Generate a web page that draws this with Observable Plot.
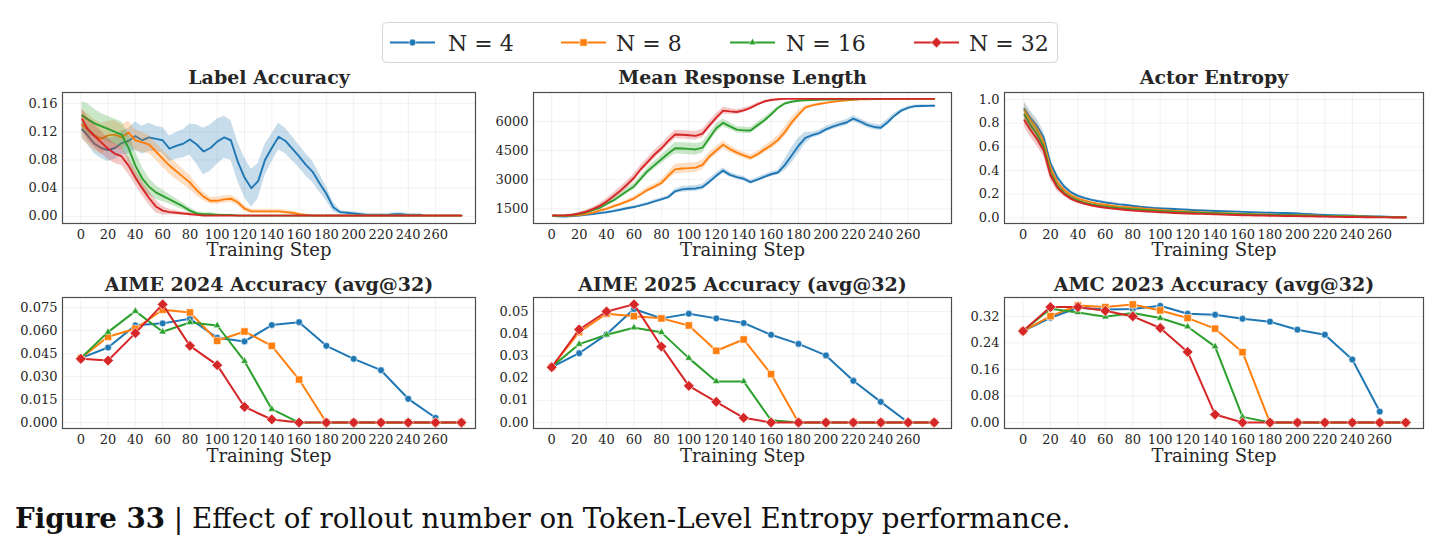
<!DOCTYPE html>
<html>
<head>
<meta charset="utf-8">
<script src="https://cdn.jsdelivr.net/npm/d3@7"></script>
<script src="https://cdn.jsdelivr.net/npm/@observablehq/plot@0.6"></script>
<style>
  html, body { margin: 0; padding: 0; background: #fff; }
  #root { position: relative; width: 1443px; height: 551px; overflow: hidden; background: #fff; }
  #root svg { position: absolute; }
</style>
</head>
<body>
<div id="root"></div>
<script>
// ---------------- DATA ----------------
const seriesNames = ["N = 4", "N = 8", "N = 16", "N = 32"];
const colors = ["#1f77b4", "#ff7f0e", "#2ca02c", "#d62728"];
const xTicks = [0, 20, 40, 60, 80, 100, 120, 140, 160, 180, 200, 220, 240, 260];

const trainSteps = [1, 5, 10, 15, 20, 25, 30, 35, 40, 45, 50, 55, 60, 65, 70, 75, 80, 85, 90, 95,
  100, 105, 110, 115, 120, 125, 130, 135, 140, 145, 150, 155, 160, 165, 170, 175, 180, 185, 190, 195,
  200, 205, 210, 215, 220, 225, 230, 235, 240, 245, 250, 255, 260, 265, 270, 275, 279];
const evalSteps = [0, 20, 40, 60, 80, 100, 120, 140, 160, 180, 200, 220, 240, 260, 279];

// Label Accuracy (mean and band half-width)
const labelAccN4 = [
  0.123,0.115,0.103,0.097,0.094,0.097,0.104,0.107,0.114,0.108,
  0.112,0.110,0.108,0.096,0.100,0.103,0.109,0.102,0.092,0.097,
  0.106,0.112,0.108,0.078,0.055,0.040,0.050,0.080,0.097,0.113,
  0.107,0.096,0.085,0.073,0.063,0.047,0.032,0.013,0.006,0.005,
  0.004,0.003,0.002,0.002,0.002,0.002,0.003,0.003,0.002,0.002,
  0.002,null,null,null,null,null,null];
const labelAccN4Band = [
  0.012,0.013,0.014,0.015,0.016,0.016,0.017,0.018,0.020,0.020,
  0.020,0.018,0.018,0.018,0.019,0.020,0.022,0.028,0.033,0.033,
  0.032,0.030,0.028,0.028,0.028,0.027,0.025,0.022,0.020,0.019,
  0.018,0.017,0.016,0.016,0.015,0.013,0.010,0.007,0.003,0.002,
  0.002,0.002,0.002,0.002,0.002,0.002,0.002,0.002,0.002,0.002,
  0.002,null,null,null,null,null,null];
const labelAccN8 = [
  0.130,0.124,0.115,0.110,0.115,0.116,0.112,0.119,0.108,0.105,
  0.102,0.092,0.082,0.072,0.064,0.056,0.048,0.037,0.028,0.022,
  0.022,0.024,0.025,0.020,0.011,0.007,0.007,0.007,0.007,0.007,
  0.006,0.005,0.003,0.002,0.001,0.001,0.001,0.001,0.001,0.001,
  0.001,0.001,0.001,0.001,0.001,0.001,0.001,0.001,0.001,0.001,
  0.001,0.001,0.001,0.001,0.001,0.001,0.001];
const labelAccN8Band = [
  0.020,0.022,0.022,0.022,0.020,0.020,0.018,0.016,0.015,0.014,
  0.013,0.012,0.012,0.012,0.012,0.011,0.010,0.008,0.006,0.005,
  0.005,0.005,0.005,0.005,0.004,0.003,0.003,0.003,0.003,0.003,
  0.003,0.002,0.002,0.001,0.001,0.001,0.001,0.001,0.001,0.001,
  0.001,0.001,0.001,0.001,0.001,0.001,0.001,0.001,0.001,0.001,
  0.001,0.001,0.001,0.001,0.001,0.001,0.001];
const labelAccN16 = [
  0.143,0.138,0.132,0.128,0.124,0.120,0.116,0.097,0.072,0.054,
  0.042,0.034,0.029,0.024,0.019,0.014,0.008,0.004,0.003,0.003,
  0.002,0.002,0.002,0.001,0.001,0.001,0.001,0.001,0.001,0.001,
  0.001,0.001,0.001,0.001,0.001,0.001,0.001,0.001,0.001,0.001,
  0.001,0.001,0.001,0.001,0.001,0.001,0.001,0.001,0.001,0.001,
  0.001,0.001,0.001,0.001,0.001,0.001,0.001];
const labelAccN16Band = [
  0.020,0.022,0.020,0.018,0.018,0.018,0.018,0.020,0.020,0.016,
  0.012,0.010,0.008,0.007,0.006,0.005,0.004,0.003,0.002,0.002,
  0.002,0.001,0.001,0.001,0.001,0.001,0.001,0.001,0.001,0.001,
  0.001,0.001,0.001,0.001,0.001,0.001,0.001,0.001,0.001,0.001,
  0.001,0.001,0.001,0.001,0.001,0.001,0.001,0.001,0.001,0.001,
  0.001,0.001,0.001,0.001,0.001,0.001,0.001];
const labelAccN32 = [
  0.138,0.124,0.114,0.105,0.096,0.089,0.085,0.072,0.055,0.040,
  0.026,0.014,0.008,0.006,0.005,0.004,0.003,0.002,0.001,0.001,
  0.001,0.001,0.001,0.001,0.001,0.001,0.001,0.001,0.001,0.001,
  0.001,0.001,0.001,0.001,0.001,0.001,0.001,0.001,0.001,0.001,
  0.001,0.001,0.001,0.001,0.001,0.001,0.001,0.001,0.001,0.001,
  0.001,0.001,0.001,0.001,0.001,0.001,0.001];
const labelAccN32Band = [
  0.015,0.016,0.016,0.016,0.015,0.014,0.013,0.012,0.011,0.010,
  0.010,0.009,0.006,0.004,0.003,0.002,0.002,0.001,0.001,0.001,
  0.001,0.001,0.001,0.001,0.001,0.001,0.001,0.001,0.001,0.001,
  0.001,0.001,0.001,0.001,0.001,0.001,0.001,0.001,0.001,0.001,
  0.001,0.001,0.001,0.001,0.001,0.001,0.001,0.001,0.001,0.001,
  0.001,0.001,0.001,0.001,0.001,0.001,0.001];

// Mean Response Length
const respLenN4 = [
  1120,1110,1105,1120,1150,1190,1225,1275,1320,1380,
  1450,1530,1590,1680,1770,1880,1990,2100,2400,2500,
  2530,2550,2620,2900,3200,3470,3250,3130,3050,2870,
  3000,3150,3280,3370,3750,4250,4750,5150,5300,5400,
  5590,5740,5850,5950,6150,6000,5830,5720,5680,5960,
  6300,6560,6700,6790,6800,6805,6810];
const respLenN4Band = [
  40,40,40,40,40,40,40,50,50,60,
  60,60,60,70,70,80,80,90,120,150,
  150,150,150,150,150,150,130,120,120,110,
  110,120,120,120,300,400,400,300,150,150,
  150,150,150,150,150,150,150,150,150,150,
  120,100,80,60,60,60,60];
const respLenN8 = [
  1150,1140,1140,1150,1180,1230,1300,1410,1500,1630,
  1740,1880,2030,2250,2480,2640,2830,3200,3530,3580,
  3595,3620,3760,4200,4500,4800,4580,4400,4250,4130,
  4300,4550,4770,5050,5450,5950,6350,6720,6830,6900,
  6960,7010,7050,7090,7120,7140,7150,7155,7160,7163,
  7165,7166,7167,7168,7168,7168,7168];
const respLenN8Band = [
  40,40,40,40,40,50,50,60,70,80,
  90,100,110,120,130,140,150,200,250,250,
  250,250,250,220,200,200,180,160,150,150,
  160,180,200,220,250,250,200,100,60,50,
  40,40,30,30,30,20,20,20,20,20,
  20,20,20,20,20,20,20];
const respLenN16 = [
  1150,1140,1150,1180,1230,1320,1430,1550,1750,1930,
  2170,2420,2650,3050,3450,3750,4050,4350,4620,4610,
  4590,4560,4650,5150,5650,5930,5750,5580,5540,5536,
  5800,6050,6360,6700,6930,7020,7070,7095,7110,7120,
  7130,7135,7140,7145,7150,7155,7160,7163,7165,7166,
  7167,7168,7168,7168,7168,7168,7168];
const respLenN16Band = [
  40,40,40,40,50,60,70,90,100,120,
  130,150,160,170,180,200,220,250,300,300,
  300,300,280,250,220,200,180,160,160,160,
  160,150,120,80,50,40,30,30,20,20,
  20,20,20,20,20,20,20,20,20,20,
  20,20,20,20,20,20,20];
const respLenN32 = [
  1160,1150,1160,1190,1260,1350,1480,1650,1880,2150,
  2430,2750,3100,3550,3920,4300,4620,5000,5330,5320,
  5290,5260,5380,5800,6200,6560,6520,6490,6570,6700,
  6880,7030,7110,7150,7165,7168,7168,7168,7168,7168,
  7168,7168,7168,7168,7168,7168,7168,7168,7168,7168,
  7168,7168,7168,7168,7168,7168,7168];
const respLenN32Band = [
  40,40,40,50,60,80,100,120,150,170,
  190,200,200,200,210,210,210,220,220,220,
  220,220,220,200,200,180,150,130,120,100,
  80,60,40,30,20,20,20,20,20,20,
  20,20,20,20,20,20,20,20,20,20,
  20,20,20,20,20,20,20];

// Actor Entropy
const entropyN4 = [
  0.920,0.850,0.780,0.680,0.460,0.340,0.265,0.215,0.185,0.167,
  0.152,0.140,0.130,0.122,0.114,0.108,0.100,0.093,0.088,0.083,
  0.080,0.077,0.074,0.071,0.068,0.065,0.062,0.060,0.058,0.056,
  0.054,0.052,0.050,0.048,0.046,0.044,0.043,0.042,0.041,0.039,
  0.036,0.033,0.030,0.027,0.025,0.023,0.021,0.019,0.017,0.015,
  0.014,0.012,0.011,0.009,0.008,0.007,0.006];
const entropyN8 = [
  0.905,0.830,0.750,0.640,0.420,0.300,0.235,0.190,0.163,0.145,
  0.130,0.118,0.110,0.102,0.095,0.090,0.086,0.081,0.076,0.071,
  0.066,0.062,0.058,0.055,0.052,0.049,0.046,0.044,0.042,0.039,
  0.037,0.035,0.033,0.031,0.029,0.027,0.026,0.025,0.024,0.023,
  0.022,0.020,0.019,0.017,0.016,0.015,0.014,0.013,0.012,0.011,
  0.010,0.009,0.008,0.007,0.006,0.005,0.005];
const entropyN16 = [
  0.870,0.790,0.710,0.600,0.380,0.270,0.210,0.170,0.145,0.126,
  0.113,0.103,0.095,0.088,0.082,0.077,0.072,0.068,0.064,0.060,
  0.056,0.053,0.050,0.047,0.045,0.043,0.041,0.039,0.037,0.035,
  0.033,0.031,0.030,0.028,0.027,0.026,0.025,0.024,0.023,0.022,
  0.020,0.019,0.017,0.016,0.015,0.014,0.013,0.012,0.011,0.010,
  0.009,0.008,0.007,0.006,0.005,0.004,0.004];
const entropyN32 = [
  0.825,0.750,0.670,0.570,0.360,0.255,0.200,0.160,0.135,0.118,
  0.104,0.093,0.085,0.078,0.072,0.066,0.061,0.057,0.053,0.050,
  0.047,0.044,0.041,0.039,0.037,0.035,0.033,0.031,0.029,0.027,
  0.025,0.024,0.022,0.021,0.020,0.019,0.018,0.017,0.016,0.015,
  0.014,0.013,0.012,0.011,0.010,0.009,0.008,0.007,0.007,0.006,
  0.005,0.005,0.004,0.004,0.003,0.003,0.003];
const entropyBand = [
  0.060,0.060,0.060,0.050,0.040,0.030,0.020,0.015,0.012,0.012,
  0.008,0.008,0.008,0.008,0.008,0.008,0.008,0.007,0.007,0.007,
  0.006,0.006,0.006,0.006,0.006,0.006,0.006,0.006,0.006,0.006,
  0.005,0.005,0.005,0.005,0.005,0.005,0.005,0.005,0.005,0.005,
  0.004,0.004,0.004,0.004,0.004,0.004,0.004,0.004,0.004,0.004,
  0.003,0.003,0.003,0.003,0.003,0.003,0.003];

// AIME 2024 Accuracy (avg@32)  (N = 4 has no final evaluation point)
const aime24N4  = [0.0421,0.0490,0.0635,0.0648,0.0678,0.0554,0.0530,0.0637,0.0656,0.0501,0.0416,0.0342,0.0155,0.0031,null];
const aime24N8  = [0.0421,0.0560,0.0613,0.0737,0.0719,0.0534,0.0595,0.0501,0.0281,0,0,0,0,0,0];
const aime24N16 = [0.0421,0.0591,0.0728,0.0593,0.0654,0.0634,0.0401,0.0087,0,0,0,0,0,0,0];
const aime24N32 = [0.0416,0.0405,0.0584,0.0772,0.0501,0.0375,0.0102,0.0020,0,0,0,0,0,0,0];
// AIME 2025 Accuracy (avg@32)
const aime25N4  = [0.0249,0.0312,0.0397,0.0511,0.0469,0.0490,0.0469,0.0448,0.0395,0.0354,0.0302,0.0188,0.0093,0,null];
const aime25N8  = [0.0250,0.0407,0.0490,0.0479,0.0469,0.0437,0.0323,0.0374,0.0218,0,0,0,0,0,0];
const aime25N16 = [0.0250,0.0353,0.0395,0.0427,0.0406,0.0290,0.0185,0.0185,0.0010,0,0,0,0,0,0];
const aime25N32 = [0.0249,0.0419,0.0500,0.0532,0.0342,0.0165,0.0093,0.0021,0,0,0,0,0,0,0];
// AMC 2023 Accuracy (avg@32)
const amc23N4  = [0.2757,0.316,0.346,0.341,0.342,0.352,0.328,0.325,0.313,0.304,0.280,0.265,0.190,0.033,null];
const amc23N8  = [0.2757,0.321,0.353,0.348,0.356,0.338,0.315,0.283,0.212,0,0,0,0,0,0];
const amc23N16 = [0.2757,0.343,0.332,0.319,0.330,0.315,0.289,0.229,0.017,0,0,0,0,0,0];
const amc23N32 = [0.2757,0.348,0.348,0.337,0.320,0.285,0.213,0.024,0,0,0,0,0,0,0];

const labelAccTicks = [0, 0.04, 0.08, 0.12, 0.16];
const respLenTicks = [1500, 3000, 4500, 6000];
const entropyTicks = [0, 0.2, 0.4, 0.6, 0.8, 1.0];
const aime24Ticks = [0, 0.015, 0.030, 0.045, 0.060, 0.075];
const aime25Ticks = [0, 0.01, 0.02, 0.03, 0.04, 0.05];
const amc23Ticks = [0, 0.08, 0.16, 0.24, 0.32];

// ---------------- DRAWING ----------------
const root = document.getElementById("root");
const FONT = "'DejaVu Serif', serif";
const TEXT = "#262626";

const diamondSym = { draw(ctx, size) { const a = Math.sqrt(size / 2); ctx.moveTo(0, -a); ctx.lineTo(a, 0); ctx.lineTo(0, a); ctx.lineTo(-a, 0); ctx.closePath(); } };
const plotSymbols = ["circle", "square", "triangle", diamondSym];
const d3Symbols = [d3.symbolCircle, d3.symbolSquare, d3.symbolTriangle, diamondSym];
const markerR = [3.4, 4.1, 2.8, 4.3];

function trainRows(vals, band) {
  return trainSteps.map((s, j) => ({ step: s, y: vals[j], lo: vals[j] == null ? null : vals[j] - band[j], hi: vals[j] == null ? null : vals[j] + band[j] }))
    .filter(d => d.y != null);
}
function evalRows(vals) { return evalSteps.map((s, j) => ({ step: s, y: vals[j] })).filter(d => d.y != null); }

function trainMarks(list) {
  const marks = [];
  list.forEach(([vals, band], i) => {
    const rows = trainRows(vals, band);
    marks.push(Plot.areaY(rows, { x: "step", y1: "lo", y2: "hi", fill: colors[i], fillOpacity: 0.25 }));
    marks.push(Plot.line(rows, { x: "step", y: "y", stroke: colors[i], strokeWidth: 1.9 }));
  });
  return marks;
}
function evalMarks(list) {
  const marks = [];
  list.forEach((vals, i) => {
    const rows = evalRows(vals);
    marks.push(Plot.line(rows, { x: "step", y: "y", stroke: colors[i], strokeWidth: 2 }));
    marks.push(Plot.dot(rows, { x: "step", y: "y", symbol: plotSymbols[i], r: markerR[i], fill: colors[i], stroke: "#fff", strokeWidth: 0.6 }));
  });
  return marks;
}

function panel({ left, top, w, h, xDomain, yDomain, yTicks, yFormat, title, titleDy, xlabDy, marks }) {
  const ML = 60, MR = 12, MT = 40, MB = 48;
  const svg = Plot.plot({
    width: w + ML + MR, height: h + MT + MB,
    marginLeft: ML, marginRight: MR, marginTop: MT, marginBottom: MB,
    style: { fontFamily: FONT, fontSize: "13px", color: TEXT, background: "transparent", overflow: "visible" },
    x: { domain: xDomain },
    y: { domain: yDomain },
    marks: [
      Plot.gridX(xTicks, { stroke: "#000", strokeOpacity: 0.07, strokeWidth: 0.8 }),
      Plot.gridY(yTicks, { stroke: "#000", strokeOpacity: 0.07, strokeWidth: 0.8 }),
      ...marks,
      Plot.frame({ stroke: "#4d4d4d", strokeWidth: 1.2 }),
      Plot.axisX(xTicks, { tickSize: 0, tickPadding: 6, tickFormat: d => String(d), label: null, fontSize: 13 }),
      Plot.axisY(yTicks, { tickSize: 0, tickPadding: 5, tickFormat: yFormat, label: null, fontSize: 13 }),
      Plot.text([title], { text: d => d, frameAnchor: "top", lineAnchor: "middle", dy: titleDy, fontSize: 19, fontWeight: "bold", fill: TEXT }),
      Plot.text(["Training Step"], { text: d => d, frameAnchor: "bottom", lineAnchor: "middle", dy: xlabDy, fontSize: 18, fill: TEXT })
    ]
  });
  svg.style.position = "absolute";
  svg.style.left = (left - ML) + "px";
  svg.style.top = (top - MT) + "px";
  root.appendChild(svg);
}

const col = [
  { left: 62, w: 413, xDomain: [-13.4, 289.3] },
  { left: 533, w: 418, xDomain: [-13.3, 291.6] },
  { left: 1004, w: 419, xDomain: [-13.5, 291.9] }
];
const rowTop = [{ top: 92, h: 131, titleDy: -14.5, xlabDy: 27 }, { top: 297, h: 131, titleDy: -13, xlabDy: 28 }];

panel({ ...col[0], ...rowTop[0], yDomain: [-0.0102, 0.1758], yTicks: labelAccTicks, yFormat: d3.format(".2f"), title: "Label Accuracy",
  marks: trainMarks([[labelAccN4, labelAccN4Band], [labelAccN8, labelAccN8Band], [labelAccN16, labelAccN16Band], [labelAccN32, labelAccN32Band]]) });
panel({ ...col[1], ...rowTop[0], yDomain: [742, 7495], yTicks: respLenTicks, yFormat: d => String(d), title: "Mean Response Length",
  marks: trainMarks([[respLenN4, respLenN4Band], [respLenN8, respLenN8Band], [respLenN16, respLenN16Band], [respLenN32, respLenN32Band]]) });
panel({ ...col[2], ...rowTop[0], yDomain: [-0.048, 1.059], yTicks: entropyTicks, yFormat: d3.format(".1f"), title: "Actor Entropy",
  marks: trainMarks([[entropyN4, entropyBand], [entropyN8, entropyBand], [entropyN16, entropyBand], [entropyN32, entropyBand]]) });
panel({ ...col[0], ...rowTop[1], yDomain: [-0.0039, 0.0817], yTicks: aime24Ticks, yFormat: d3.format(".3f"), title: "AIME 2024 Accuracy (avg@32)",
  marks: evalMarks([aime24N4, aime24N8, aime24N16, aime24N32]) });
panel({ ...col[1], ...rowTop[1], yDomain: [-0.0027, 0.0563], yTicks: aime25Ticks, yFormat: d3.format(".2f"), title: "AIME 2025 Accuracy (avg@32)",
  marks: evalMarks([aime25N4, aime25N8, aime25N16, aime25N32]) });
panel({ ...col[2], ...rowTop[1], yDomain: [-0.018, 0.377], yTicks: amc23Ticks, yFormat: d3.format(".2f"), title: "AMC 2023 Accuracy (avg@32)",
  marks: evalMarks([amc23N4, amc23N8, amc23N16, amc23N32]) });

// ---------------- LEGEND + CAPTION ----------------
const ov = d3.select(root).append("svg").attr("width", 1443).attr("height", 551).style("left", "0px").style("top", "0px");
const lg = ov.append("g").attr("transform", "translate(382,22)");
lg.append("rect").attr("x", 0.5).attr("y", 0.5).attr("width", 675).attr("height", 40).attr("rx", 4)
  .attr("fill", "#fff").attr("stroke", "#d6d6d6").attr("stroke-width", 1);
const lineStart = [8, 179, 348, 532];
const textStart = [66, 234, 404, 587];
seriesNames.forEach((name, i) => {
  const g = lg.append("g");
  g.append("line").attr("x1", lineStart[i]).attr("x2", lineStart[i] + 45).attr("y1", 20.5).attr("y2", 20.5)
    .attr("stroke", colors[i]).attr("stroke-width", 2);
  g.append("path").attr("d", d3.symbol().type(d3Symbols[i]).size(Math.PI * markerR[i] * markerR[i])())
    .attr("transform", `translate(${lineStart[i] + 22.5},20.5)`).attr("fill", colors[i]).attr("stroke", "#fff").attr("stroke-width", 0.6);
  g.append("text").attr("x", textStart[i]).attr("y", 28.5).attr("font-family", FONT).attr("font-size", 22)
    .attr("fill", TEXT).text(name);
});

const cap = ov.append("text").attr("x", 15).attr("y", 528).attr("font-family", FONT).attr("font-size", 27.7).attr("fill", "#111");
cap.append("tspan").attr("font-weight", "bold").text("Figure 33");
cap.append("tspan").text(" | Effect of rollout number on Token-Level Entropy performance.");
</script>
</body>
</html>
